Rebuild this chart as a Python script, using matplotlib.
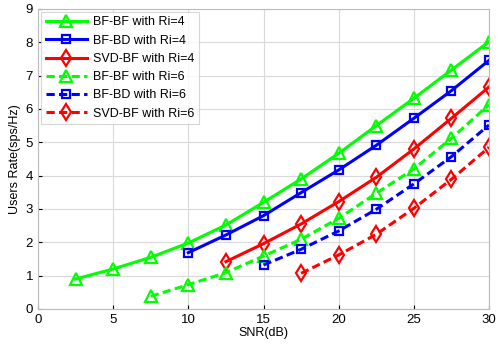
import matplotlib
matplotlib.use('Agg')
import matplotlib.pyplot as plt

plt.rcParams['font.family'] = ['Liberation Sans', 'DejaVu Sans']

# SNR values (dB)
snr_bfbf4 = [2.5, 5, 7.5, 10, 12.5, 15, 17.5, 20, 22.5, 25, 27.5, 30]
snr_bfbd4 = [10, 12.5, 15, 17.5, 20, 22.5, 25, 27.5, 30]
snr_svd4 = [12.5, 15, 17.5, 20, 22.5, 25, 27.5, 30]
snr_bfbf6 = [7.5, 10, 12.5, 15, 17.5, 20, 22.5, 25, 27.5, 30]
snr_bfbd6 = [15, 17.5, 20, 22.5, 25, 27.5, 30]
snr_svd6 = [17.5, 20, 22.5, 25, 27.5, 30]

# Users rate (sps/Hz)
rate_bfbf4 = [0.9, 1.2, 1.55, 1.98, 2.52, 3.2, 3.9, 4.67, 5.5, 6.32, 7.17, 8.02]
rate_bfbd4 = [1.69, 2.22, 2.8, 3.49, 4.17, 4.91, 5.72, 6.55, 7.46]
rate_svd4 = [1.42, 1.96, 2.55, 3.22, 3.95, 4.8, 5.72, 6.66]
rate_bfbf6 = [0.38, 0.73, 1.09, 1.59, 2.09, 2.72, 3.47, 4.2, 5.12, 6.13]
rate_bfbd6 = [1.32, 1.79, 2.34, 2.99, 3.75, 4.57, 5.52]
rate_svd6 = [1.07, 1.62, 2.24, 3.02, 3.89, 4.85]

labels = ['BF-BF with Ri=4', 'BF-BD with Ri=4', 'SVD-BF with Ri=4',
          'BF-BF with Ri=6', 'BF-BD with Ri=6', 'SVD-BF with Ri=6']

fig = plt.figure(figsize=(5.0, 3.46), dpi=100)
ax = fig.add_axes([0.076, 0.107, 0.902, 0.867])

series = [
    (snr_bfbf4, rate_bfbf4, '#00ff00', '^', '-'),
    (snr_bfbd4, rate_bfbd4, '#0000ff', 's', '-'),
    (snr_svd4, rate_svd4, '#ff0000', 'd', '-'),
    (snr_bfbf6, rate_bfbf6, '#00ff00', '^', '--'),
    (snr_bfbd6, rate_bfbd6, '#0000ff', 's', '--'),
    (snr_svd6, rate_svd6, '#ff0000', 'd', '--'),
]
sizes = {'^': 8, 's': 6, 'd': 8}
for (x, y, c, m, ls), lab in zip(series, labels):
    ax.plot(x, y, color=c, linestyle=ls, linewidth=2.2, marker=m,
            markersize=sizes[m], markerfacecolor='none', markeredgewidth=1.6,
            label=lab, dashes=(2.7, 1.4) if ls == '--' else (None, None))

ax.set_xlim(0, 30)
ax.set_ylim(0, 9)
ax.set_xticks(range(0, 31, 5))
ax.set_yticks(range(0, 10))
ax.grid(True, color='#d9d9d9', linewidth=0.8)
ax.tick_params(direction='in', labelsize=9.5, length=3, colors='black')
for s in ax.spines.values():
    s.set_color('#bbbbbb')
ax.set_xlabel('SNR(dB)', fontsize=9, labelpad=1)
ax.set_ylabel('Users Rate(sps/Hz)', fontsize=9, labelpad=3)

leg = ax.legend(loc='upper left', fontsize=9, frameon=True, fancybox=False,
                borderpad=0.35, labelspacing=0.5, handlelength=3.3,
                handletextpad=0.5, borderaxespad=0.25)
leg.get_frame().set_edgecolor('#cccccc')
leg.get_frame().set_linewidth(0.8)

fig.savefig('out.png', dpi=100)
